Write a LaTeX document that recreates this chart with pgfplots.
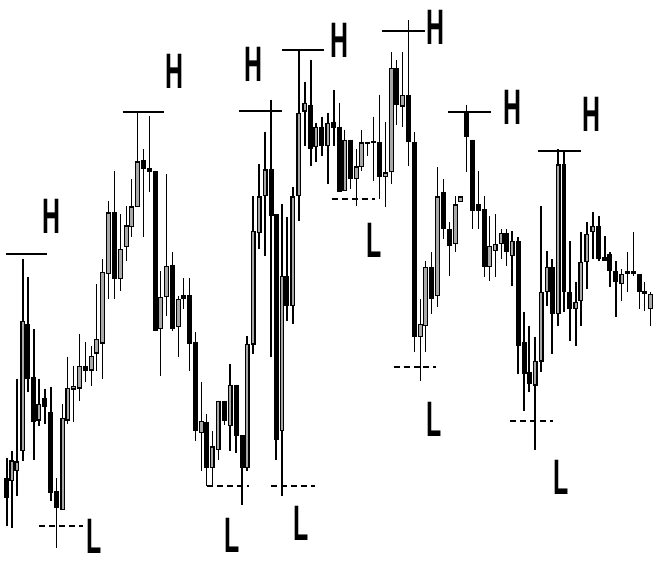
\documentclass[border=0pt]{standalone}
\usepackage{pgfplots}
\pgfplotsset{compat=1.18}
\usepackage{pgfplotstable}
\usepackage{fontspec}
\setmainfont{Liberation Sans}
\definecolor{hollow}{HTML}{A8A8A8}

% x  hi  lo  bt  bb  (pixel rows, top = 0)
\pgfplotstableread{
x hi lo bt bb
7 460 528 480 500
28 278 393 325 380
34 330 462 378 423
45 390 425 399 408
51 388 503 413 495
57 480 550 493 510
86 343 383 367 372
115 172 300 213 280
144 150 238 161 170
150 116 193 169 173
156 172 332 172 332
173 253 332 266 330
184 279 310 296 300
190 279 372 296 345
196 333 443 343 433
207 415 488 423 470
225 402 427 402 422
237 386 455 386 438
243 437 507 437 470
272 100 358 170 217
277 215 462 215 442
288 218 322 277 307
312 60 167 105 150
323 117 157 127 147
335 90 147 122 128
341 103 193 127 193
352 140 190 140 180
369 143 157 142 145
375 117 182 141 144
381 95 200 143 178
398 60 125 68 105
410 20 167 95 143
416 132 353 142 338
433 253 315 268 300
445 180 240 193 230
451 223 277 230 247
468 105 173 112 137
474 140 230 140 212
480 172 230 205 212
486 197 278 210 268
508 230 267 234 253
520 238 375 242 347
526 313 412 343 375
531 327 393 373 385
554 260 355 268 315
566 152 313 165 293
572 242 342 293 310
601 217 262 227 260
607 237 262 258 262
612 253 288 255 272
618 262 318 272 283
630 253 293 272 274
636 233 277 272 275
642 275 310 275 293
647 283 312 292 295
}\blk

\pgfplotstableread{
x hi lo bt bb
12 453 530 462 483
17 380 498 463 473
23 260 463 322 453
39 380 428 405 422
63 405 512 419 512
68 358 425 389 422
74 367 423 387 391
80 335 402 367 390
92 347 387 357 372
97 285 372 340 355
103 260 380 273 345
109 202 300 213 275
121 215 292 250 280
127 207 262 226 248
132 180 238 207 228
138 112 208 162 208
161 272 377 298 330
167 175 317 267 298
179 297 358 300 328
202 383 473 422 435
213 433 488 448 470
219 402 462 402 452
231 365 453 386 428
248 337 473 345 470
254 197 355 232 346
260 165 250 197 234
266 132 257 170 197
283 205 498 277 433
294 188 325 197 307
300 50 222 113 197
306 82 147 103 112
317 123 163 127 148
329 113 185 123 147
346 130 192 140 192
358 150 207 167 180
363 130 172 143 168
387 122 208 173 178
393 52 185 68 173
404 52 127 95 107
422 300 382 325 338
427 262 353 268 327
439 168 308 197 297
457 197 253 205 245
462 197 203 197 203
491 217 282 247 268
497 215 278 245 252
503 230 260 234 245
514 232 287 242 257
537 338 452 362 387
543 207 373 293 363
549 252 307 268 293
560 150 327 165 315
578 283 347 303 310
583 233 327 263 302
589 223 290 235 263
595 213 260 227 233
624 270 302 275 285
653 293 327 295 310
}\wht

\pgfplotsset{
  seg/.style 2 args={only marks, mark=none, mark size=0pt,
    mark options={draw=none, fill=none},
    error bars/.cd, y dir=plus, y explicit, error mark=none,
    error bar style={line width=#1, draw=#2}},
}

\newcommand{\Hl}{\scalebox{0.5}[1]{\bfseries H}}
\newcommand{\Ll}{\scalebox{0.5}[1]{\bfseries L}}

\begin{document}
\begin{tikzpicture}
\begin{axis}[
  width=654pt, height=566pt, scale only axis,
  xmin=0, xmax=654, ymin=0, ymax=566, y dir=reverse,
  hide axis, clip=false,
]
\path (rel axis cs:0,0) rectangle (rel axis cs:1,1);

% wicks
\addplot[seg={1.4pt}{black}] table[x=x, y=hi, y error expr={\thisrow{lo}-\thisrow{hi}}] {\blk};
\addplot[seg={1.4pt}{black}] table[x=x, y=hi, y error expr={\thisrow{lo}-\thisrow{hi}}] {\wht};

% black bodies
\addplot[seg={5pt}{black}] table[x=x, y expr={(\thisrow{bt}+\thisrow{bb})/2-max((\thisrow{bb}-\thisrow{bt})/2,1.5)}, y error expr={2*max((\thisrow{bb}-\thisrow{bt})/2,1.5)}] {\blk};
% hollow bodies: outline then interior
\addplot[seg={5pt}{black}] table[x=x, y expr={(\thisrow{bt}+\thisrow{bb})/2-max((\thisrow{bb}-\thisrow{bt})/2,2)}, y error expr={2*max((\thisrow{bb}-\thisrow{bt})/2,2)}] {\wht};
\addplot[seg={2.5pt}{hollow}] table[x=x, y expr={(\thisrow{bt}+\thisrow{bb})/2-max((\thisrow{bb}-\thisrow{bt})/2-1.3,0.7)}, y error expr={2*max((\thisrow{bb}-\thisrow{bt})/2-1.3,0.7)}] {\wht};

% H lines
\addplot[black, line width=2pt] coordinates {(6,255) (47,255)};
\addplot[black, line width=2pt] coordinates {(123,112) (165,112)};
\addplot[black, line width=2pt] coordinates {(240,111) (283,111)};
\addplot[black, line width=2pt] coordinates {(283,50) (325,50)};
\addplot[black, line width=2pt] coordinates {(383,31) (427,31)};
\addplot[black, line width=2pt] coordinates {(450,112) (493,112)};
\addplot[black, line width=2pt] coordinates {(540,152) (583,152)};

% L lines
\addplot[black, line width=2pt, dash pattern=on 6pt off 4pt] coordinates {(39,528) (83,528)};
\addplot[black, line width=2pt, dash pattern=on 6pt off 4pt] coordinates {(208,488) (250,488)};
\addplot[black, line width=2pt, dash pattern=on 6pt off 4pt] coordinates {(272,488) (316,488)};
\addplot[black, line width=2pt, dash pattern=on 6pt off 4pt] coordinates {(333,200) (376,200)};
\addplot[black, line width=2pt, dash pattern=on 6pt off 4pt] coordinates {(395,368) (438,368)};
\addplot[black, line width=2pt, dash pattern=on 6pt off 4pt] coordinates {(512,422) (555,422)};

\tikzset{lbl/.style={inner sep=0pt, font=\fontsize{50}{50}\selectfont, text=black}}
\node[lbl] at (axis cs:52,217) {\Hl};
\node[lbl] at (axis cs:175,72) {\Hl};
\node[lbl] at (axis cs:254,65) {\Hl};
\node[lbl] at (axis cs:341,41) {\Hl};
\node[lbl] at (axis cs:437,27) {\Hl};
\node[lbl] at (axis cs:514,108) {\Hl};
\node[lbl] at (axis cs:594,115) {\Hl};

\node[lbl] at (axis cs:94,538) {\Ll};
\node[lbl] at (axis cs:233,537) {\Ll};
\node[lbl] at (axis cs:302,525) {\Ll};
\node[lbl] at (axis cs:375,241) {\Ll};
\node[lbl] at (axis cs:436,421) {\Ll};
\node[lbl] at (axis cs:563,479) {\Ll};
\end{axis}
\end{tikzpicture}
\end{document}
